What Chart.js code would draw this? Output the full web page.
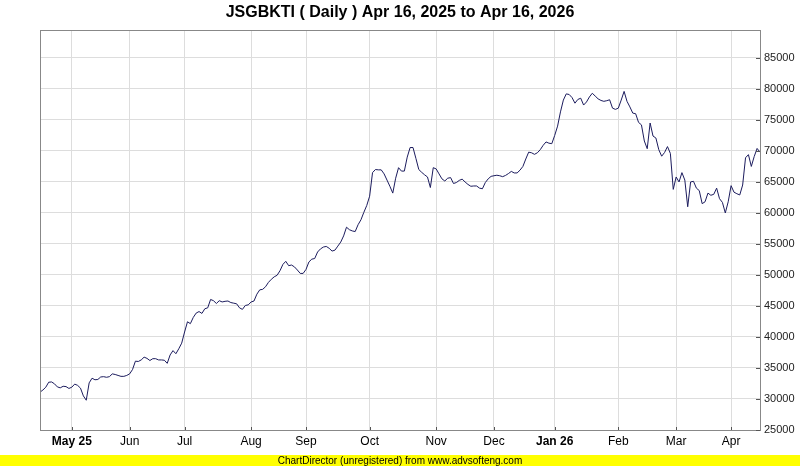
<!DOCTYPE html>
<html><head><meta charset="utf-8">
<script src="https://cdn.jsdelivr.net/npm/chart.js@4/dist/chart.umd.min.js"></script>
<style>html,body{margin:0;padding:0;background:#fff;overflow:hidden}#wrap{width:800px;height:466px}</style>
</head><body><div id="wrap"><canvas id="c" width="800" height="466"></canvas></div>
<script>
const titleText = "JSGBKTI ( Daily ) Apr 16, 2025 to Apr 16, 2026";
const footerText = "ChartDirector (unregistered) from www.advsofteng.com";
const seriesName = "JSGBKTI";
const closes = [
31100,31450,31900,32700,32750,32450,31950,31800,32050,32000,
31700,31900,32400,32200,31750,30500,29800,32600,33350,33100,
33150,33550,33600,33500,33600,34050,33950,33800,33650,33650,
33800,34050,34750,36100,36050,36300,36750,36550,36200,36500,
36500,36300,36300,36250,35750,37100,37800,37300,38100,39000,
40800,42450,42150,43150,43850,44100,43800,44550,44700,46050,
45850,45400,45850,45650,45750,45800,45550,45450,45350,44700,
44450,45080,45180,45640,45800,46900,47600,47680,48100,48800,
49300,49700,49950,50690,51700,52200,51500,51600,51300,50800,
50250,50250,50900,52100,52550,52650,53700,54200,54500,54600,
54300,53850,54000,54650,55300,56300,57700,57300,57100,57000,
58100,58900,60100,61200,62700,66500,67000,66950,66950,66300,
65300,64300,63200,65600,67300,66750,66750,69000,70550,70550,
68800,67000,66550,66150,65800,64100,67300,67100,66300,65500,
65150,65600,65700,64750,64900,65250,65450,65000,64600,64300,
64350,64350,64000,63900,64900,65500,65900,66000,66080,66000,
65850,66050,66350,66700,66450,66450,66900,67500,68700,69800,
69700,69450,69700,70200,70900,71450,71250,71170,72500,74000,
76300,78200,79200,79100,78600,77700,78300,78500,77400,77900,
78700,79300,78850,78400,78140,78000,78100,78250,76900,76700,
76900,78200,79600,78000,77100,76100,76000,74600,74200,71600,
70360,74500,72400,72080,70200,69150,69750,70700,69600,63800,
65800,65000,66500,65300,61000,65000,65100,64000,63600,61500,
61800,63200,62850,63000,64000,62300,61700,60000,61800,64400,
63350,63100,62900,64500,68900,69400,67500,69100,70400,69800
];
const monthTickIdx = [11,31,50,73,92,114,137,157,178,200,220,239];
const monthLabels = ["May 25","Jun","Jul","Aug","Sep","Oct","Nov","Dec","Jan 26","Feb","Mar","Apr"];
const boldLabels = ["May 25","Jan 26"];
const yTicks = [25000,30000,35000,40000,45000,50000,55000,60000,65000,70000,75000,80000,85000];
const yMin = 25000, yMax = 89500;

const NARROW = '"Liberation Sans Narrow","Arial Narrow","Liberation Sans",Arial,sans-serif';
const SANS = '"Liberation Sans",Arial,sans-serif';

const points = closes.map((v, i) => ({x: i, y: v}));

const decor = {
  id: 'decor',
  beforeDraw(chart) {
    const ctx = chart.ctx;
    ctx.save();
    ctx.fillStyle = '#ffffff';
    ctx.fillRect(0, 0, chart.width, chart.height);
    ctx.restore();
  },
  afterDraw(chart) {
    const ctx = chart.ctx, a = chart.chartArea;
    ctx.save();
    // frame
    ctx.strokeStyle = '#888888';
    ctx.lineWidth = 1;
    ctx.strokeRect(Math.round(a.left) + 0.5, Math.round(a.top) + 0.5, Math.round(a.right - a.left), Math.round(a.bottom - a.top));
    // inner ticks
    ctx.strokeStyle = '#555555';
    ctx.beginPath();
    const xs = chart.scales.x, ys = chart.scales.y;
    xs.ticks.forEach(t => {
      const px = Math.round(xs.getPixelForValue(t.value)) + 0.5;
      ctx.moveTo(px, a.bottom - 3); ctx.lineTo(px, a.bottom);
    });
    ys.ticks.forEach(t => {
      const py = Math.round(ys.getPixelForValue(t.value)) + 0.5;
      ctx.moveTo(a.right - 4, py); ctx.lineTo(a.right, py);
    });
    ctx.stroke();
    // title
    ctx.fillStyle = '#000000';
    ctx.font = 'bold 16px ' + NARROW;
    ctx.textAlign = 'center';
    ctx.textBaseline = 'middle';
    ctx.fillText(titleText, 400, 13);
    // footer bar
    ctx.fillStyle = '#ffff00';
    ctx.fillRect(0, 455, chart.width, 11);
    ctx.fillStyle = '#000000';
    ctx.font = '10px ' + NARROW;
    ctx.fillText(footerText, 400, 461);
    ctx.restore();
  }
};

new Chart(document.getElementById('c'), {
  type: 'line',
  data: {
    datasets: [{
      label: seriesName,
      data: points,
      borderColor: '#1c1c5e',
      borderWidth: 1,
      pointRadius: 0,
      tension: 0,
      fill: false
    }]
  },
  options: {
    responsive: false,
    animation: false,
    devicePixelRatio: 1,
    layout: {padding: {left: 40, top: 30, right: 0, bottom: 11}},
    plugins: {legend: {display: false}, tooltip: {enabled: false}, title: {display: false}},
    scales: {
      x: {
        type: 'linear',
        min: 0,
        max: closes.length - 1,
        afterBuildTicks: s => { s.ticks = monthTickIdx.map(v => ({value: v})); },
        afterFit: s => { s.height = 25; },
        grid: {color: '#dddddd', drawTicks: false, lineWidth: 1},
        border: {display: false},
        ticks: {
          autoSkip: false, maxRotation: 0, minRotation: 0, padding: 4, color: '#000000',
          callback: (v, i) => monthLabels[i],
          font: (c) => ({family: NARROW, size: 12, weight: boldLabels.includes(monthLabels[c.index]) ? 'bold' : 'normal'})
        }
      },
      y: {
        type: 'linear',
        position: 'right',
        min: yMin,
        max: yMax,
        afterBuildTicks: s => { s.ticks = yTicks.map(v => ({value: v})); },
        afterFit: s => { s.width = 40; },
        grid: {color: '#dddddd', drawTicks: false, lineWidth: 1},
        border: {display: false},
        ticks: {
          padding: 4, color: '#222222',
          callback: v => String(v),
          font: {family: SANS, size: 11}
        }
      }
    }
  },
  plugins: [decor]
});
</script>
</body></html>
